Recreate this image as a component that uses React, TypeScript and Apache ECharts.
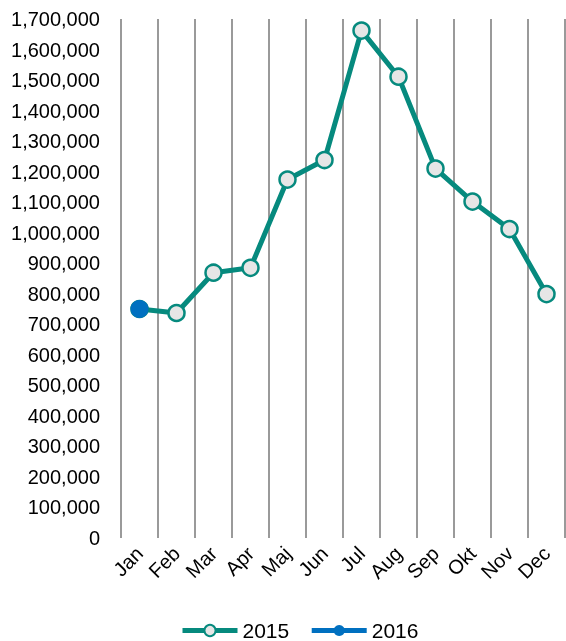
import React, { useEffect, useRef } from "react";
import * as echarts from "echarts";

const months = ["Jan", "Feb", "Mar", "Apr", "Maj", "Jun", "Jul", "Aug", "Sep", "Okt", "Nov", "Dec"];
const values2015 = [750000, 737000, 869000, 885000, 1174000, 1238000, 1662000, 1511000, 1210000, 1102000, 1012000, 799000];
const values2016 = [750000, null, null, null, null, null, null, null, null, null, null, null];
const yMax = 1700000;
const yInterval = 100000;

export default function App() {
  const ref = useRef<HTMLDivElement>(null);
  useEffect(() => {
    if (!ref.current) return;
    const chart = echarts.init(ref.current, undefined, { renderer: "svg" });
    const font = "Arial, 'Liberation Sans', sans-serif";
    chart.setOption({
      animation: false,
      grid: { left: 121, right: 1, top: 19, bottom: 103, containLabel: false },
      legend: {
        top: 620,
        padding: 0,
        left: 180,
        itemWidth: 55,
        itemHeight: 14,
        itemGap: 20,
        lineStyle: { width: 5 },
        textStyle: { fontFamily: font, fontSize: 21, lineHeight: 21, color: "#000" },
        data: ["2015", "2016"],
      },
      xAxis: {
        type: "category",
        data: months,
        boundaryGap: true,
        axisLine: { show: false },
        axisTick: { show: false },
        splitLine: { show: true, lineStyle: { color: "#9a9a9a", width: 2 } },
        axisLabel: {
          rotate: 45,
          margin: 12,
          interval: 0,
          fontFamily: font,
          fontSize: 20,
          color: "#000",
        },
      },
      yAxis: {
        type: "value",
        min: 0,
        max: yMax,
        interval: yInterval,
        axisLine: { show: false },
        axisTick: { show: false },
        splitLine: { show: false },
        axisLabel: {
          margin: 21,
          fontFamily: font,
          fontSize: 20,
          color: "#000",
          formatter: (v: number) => v.toLocaleString("en-US"),
        },
      },
      series: [
        {
          name: "2015",
          type: "line",
          data: values2015,
          symbol: "circle",
          symbolSize: 16,
          lineStyle: { color: "#068a7e", width: 5 },
          itemStyle: { color: "#e6e6e6", borderColor: "#068a7e", borderWidth: 2.5 },
          z: 2,
        },
        {
          name: "2016",
          type: "line",
          data: values2016,
          symbol: "circle",
          symbolSize: 18,
          lineStyle: { color: "#0070c0", width: 5 },
          itemStyle: { color: "#0070c0", borderColor: "#0070c0", borderWidth: 0 },
          z: 3,
        },
      ],
    });
    return () => chart.dispose();
  }, []);
  return (
    <div
      ref={ref}
      style={{ position: "fixed", left: 0, top: 0, width: 566, height: 641 }}
    />
  );
}
